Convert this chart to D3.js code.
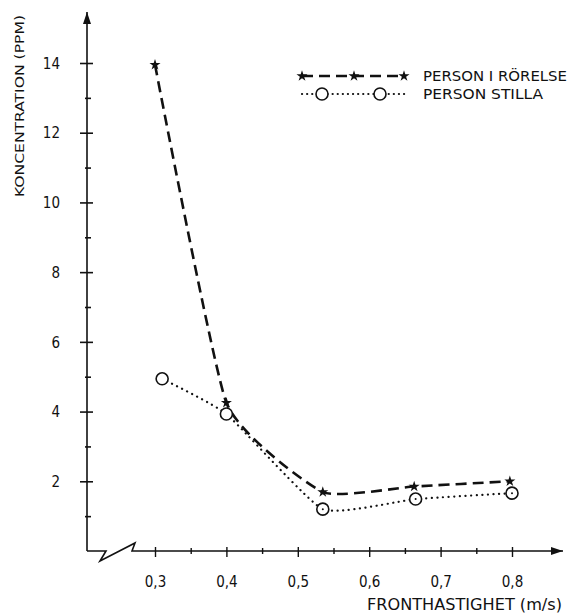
<!DOCTYPE html>
<html>
<head>
<meta charset="utf-8">
<script src="https://cdn.jsdelivr.net/npm/d3@7"></script>
<style>
  body { margin: 0; background: #fff; }
  svg text { font-family: "DejaVu Sans Condensed", "DejaVu Sans", sans-serif; fill: #111; }
</style>
</head>
<body>
<svg id="chart" width="571" height="614"></svg>
<script>
// data
const rorelseX = [0.3, 0.4, 0.535, 0.663, 0.797];
const rorelseY = [13.95, 4.25, 1.69, 1.85, 2.0];
const stillaX = [0.31, 0.4, 0.535, 0.665, 0.8];
const stillaY = [4.94, 3.93, 1.2, 1.49, 1.66];
const yMajor = [2, 4, 6, 8, 10, 12, 14];
const yMinor = [1, 3, 5, 7, 9, 11, 13];
const xMajor = [0.3, 0.4, 0.5, 0.6, 0.7, 0.8];
const xMinor = [0.35, 0.45, 0.55, 0.65, 0.75];
const seriesNames = ["PERSON I RÖRELSE", "PERSON STILLA"];

const svg = d3.select("#chart");
const ink = "#111";

const x = d3.scaleLinear().domain([0.3, 0.8]).range([155, 512]);
const y = d3.scaleLinear().domain([0, 14]).range([551, 63]);
const x0 = 87, y0 = y(0);

// arrow head marker
svg.append("defs").append("marker")
    .attr("id", "arrow")
    .attr("viewBox", "0 0 12 8")
    .attr("refX", 12).attr("refY", 4)
    .attr("markerWidth", 12).attr("markerHeight", 8)
    .attr("markerUnits", "userSpaceOnUse")
    .attr("orient", "auto")
    .append("path").attr("d", "M0,0 L12,4 L0,8 Z").attr("fill", ink);

// y axis line with arrow
svg.append("line")
    .attr("x1", x0).attr("y1", y0).attr("x2", x0).attr("y2", 12)
    .attr("stroke", ink).attr("stroke-width", 1.6)
    .attr("marker-end", "url(#arrow)");

// x axis line with break and arrow
svg.append("path")
    .attr("d", `M${x0},${y0} H106 L100,${y0 + 10} L135,${y0 - 8} L132,${y0} H563`)
    .attr("fill", "none").attr("stroke", ink).attr("stroke-width", 1.6)
    .attr("stroke-linejoin", "miter")
    .attr("marker-end", "url(#arrow)");

// y axis ticks
let yAxis = svg.append("g").attr("transform", `translate(${x0},0)`)
    .call(d3.axisLeft(y).tickValues(yMajor).tickSize(7).tickFormat(d => d));
yAxis.select(".domain").remove();
yAxis.selectAll(".tick line").attr("x1", 6).attr("stroke", ink).attr("stroke-width", 1.6);
yAxis.selectAll(".tick text").attr("x", -27).attr("font-size", 15).attr("dy", "0.35em");

let yAxisMinor = svg.append("g").attr("transform", `translate(${x0},0)`)
    .call(d3.axisLeft(y).tickValues(yMinor).tickSize(2).tickFormat(""));
yAxisMinor.select(".domain").remove();
yAxisMinor.selectAll(".tick line").attr("x1", 4).attr("stroke", ink).attr("stroke-width", 1.6);

// x axis ticks
let xAxis = svg.append("g").attr("transform", `translate(0,${y0})`)
    .call(d3.axisBottom(x).tickValues(xMajor).tickSize(6)
        .tickFormat(d => d3.format(".1f")(d).replace(".", ",")));
xAxis.select(".domain").remove();
xAxis.selectAll(".tick line").attr("y1", -4).attr("stroke", ink).attr("stroke-width", 1.4);
xAxis.selectAll(".tick text").attr("y", 31).attr("dy", "0.35em").attr("font-size", 15);

let xAxisMinor = svg.append("g").attr("transform", `translate(0,${y0})`)
    .call(d3.axisBottom(x).tickValues(xMinor).tickSize(3).tickFormat(""));
xAxisMinor.select(".domain").remove();
xAxisMinor.selectAll(".tick line").attr("y1", -3).attr("stroke", ink).attr("stroke-width", 1.4);

// axis titles
svg.append("text")
    .attr("transform", "translate(24,106) rotate(-90)")
    .attr("text-anchor", "middle")
    .attr("font-size", 12.5)
    .attr("textLength", 182).attr("lengthAdjust", "spacingAndGlyphs")
    .text("KONCENTRATION (PPM)");

svg.append("text")
    .attr("x", 367).attr("y", 610)
    .attr("font-size", 15)
    .attr("textLength", 195).attr("lengthAdjust", "spacingAndGlyphs")
    .text("FRONTHASTIGHET (m/s)");

// lines
const line = d3.line()
    .x(d => x(d[0]))
    .y(d => y(d[1]))
    .curve(d3.curveCardinal.tension(0.55));

const rorelse = rorelseX.map((v, i) => [v, rorelseY[i]]);
const stilla = stillaX.map((v, i) => [v, stillaY[i]]);

svg.append("path")
    .datum(rorelse)
    .attr("d", line)
    .attr("fill", "none").attr("stroke", ink)
    .attr("stroke-width", 2.6).attr("stroke-dasharray", "11,6");

svg.append("path")
    .datum(stilla)
    .attr("d", line)
    .attr("fill", "none").attr("stroke", ink)
    .attr("stroke-width", 2.2).attr("stroke-linecap", "round")
    .attr("stroke-dasharray", "0.1,5.5");

const star = d3.symbol().type(d3.symbolStar).size(38);

svg.selectAll(".star")
    .data(rorelse)
    .enter()
    .append("path")
    .attr("class", "star")
    .attr("transform", d => `translate(${x(d[0])},${y(d[1])})`)
    .attr("d", star)
    .attr("fill", ink);

svg.selectAll(".ring")
    .data(stilla)
    .enter()
    .append("circle")
    .attr("class", "ring")
    .attr("cx", d => x(d[0]))
    .attr("cy", d => y(d[1]))
    .attr("r", 6)
    .attr("fill", "#fff")
    .attr("stroke", ink).attr("stroke-width", 1.6);

svg.selectAll(".ringdot")
    .data(stilla.slice(2))
    .enter()
    .append("circle")
    .attr("cx", d => x(d[0]))
    .attr("cy", d => y(d[1]))
    .attr("r", 1)
    .attr("fill", ink);

// legend
let legend = svg.append("g");
legend.append("line")
    .attr("x1", 302).attr("x2", 404).attr("y1", 76).attr("y2", 76)
    .attr("stroke", ink).attr("stroke-width", 2.6).attr("stroke-dasharray", "11,6");
legend.selectAll(".lstar")
    .data([302, 354, 404])
    .enter()
    .append("path")
    .attr("transform", d => `translate(${d},76)`)
    .attr("d", star)
    .attr("fill", ink);
legend.append("line")
    .attr("x1", 302).attr("x2", 408).attr("y1", 94).attr("y2", 94)
    .attr("stroke", ink).attr("stroke-width", 2.2).attr("stroke-linecap", "round")
    .attr("stroke-dasharray", "0.1,5");
legend.selectAll(".lring")
    .data([322, 380])
    .enter()
    .append("circle")
    .attr("cx", d => d).attr("cy", 94).attr("r", 6)
    .attr("fill", "#fff").attr("stroke", ink).attr("stroke-width", 1.6);
legend.selectAll(".ltext")
    .data(seriesNames)
    .enter()
    .append("text")
    .attr("x", 423)
    .attr("y", (d, i) => 76 + i * 18)
    .attr("dy", "0.35em")
    .attr("font-size", 14)
    .attr("textLength", (d, i) => i === 0 ? 144 : 120)
    .attr("lengthAdjust", "spacingAndGlyphs")
    .text(d => d);
</script>
</body>
</html>
